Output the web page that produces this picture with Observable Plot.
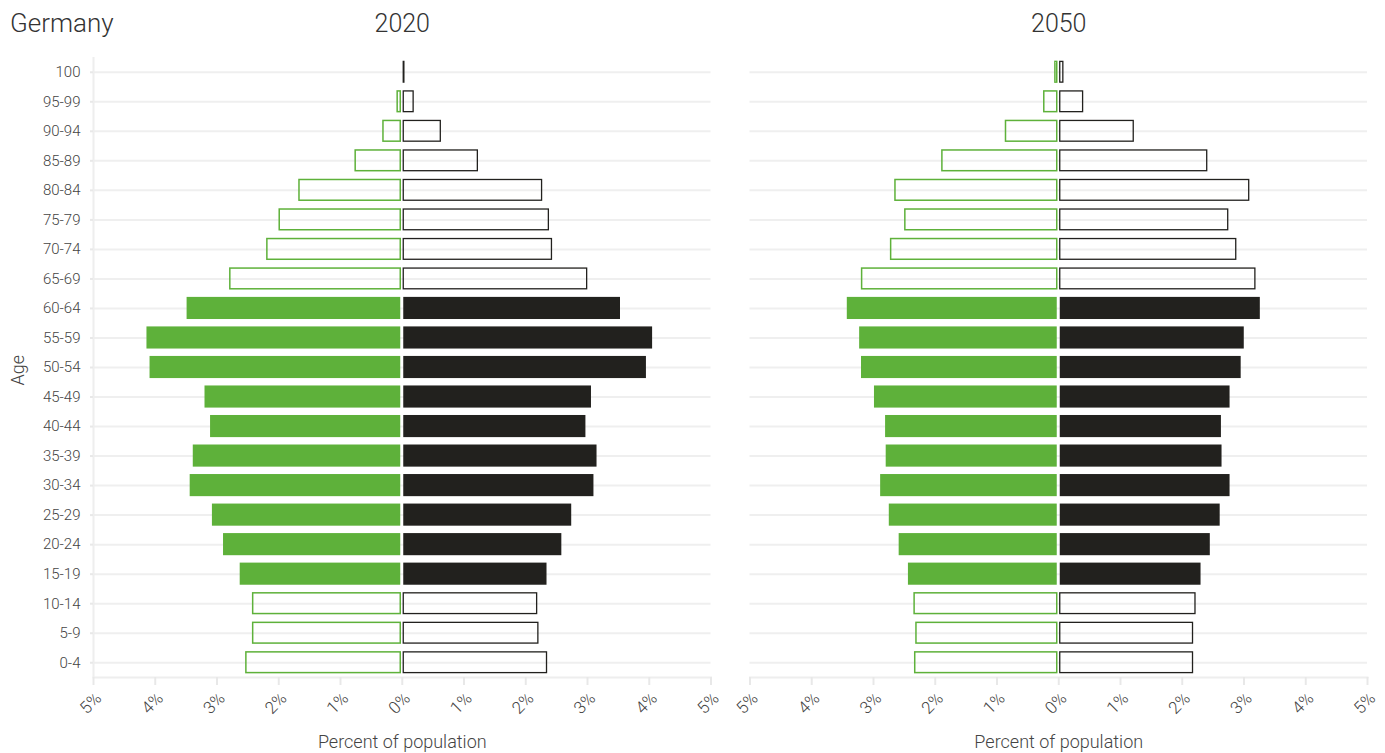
<!DOCTYPE html>
<html><head><meta charset="utf-8">
<script src="https://cdn.jsdelivr.net/npm/d3@7"></script>
<script src="https://cdn.jsdelivr.net/npm/@observablehq/plot@0.6"></script>
<style>
body{margin:0;background:#fff;font-family:Roboto,sans-serif;}
#wrap{position:relative;width:1385px;height:753px;}
#country{position:absolute;left:10px;top:8px;font-size:26px;font-weight:300;color:#333;line-height:1.2;}
</style></head><body>
<div id="wrap"><div id="country">Germany</div></div>
<script>
const ages = ["100","95-99","90-94","85-89","80-84","75-79","70-74","65-69","60-64","55-59","50-54","45-49","40-44","35-39","30-34","25-29","20-24","15-19","10-14","5-9","0-4"];
const years = ["2020","2050"];
const female2020 = [0, 0.05, 0.28, 0.73, 1.64, 1.96, 2.16, 2.76, 3.46, 4.11, 4.06, 3.17, 3.08, 3.36, 3.41, 3.05, 2.87, 2.60, 2.39, 2.39, 2.50];
const male2020   = [0.01, 0.16, 0.60, 1.20, 2.24, 2.35, 2.40, 2.97, 3.51, 4.03, 3.93, 3.04, 2.95, 3.13, 3.08, 2.72, 2.56, 2.32, 2.16, 2.18, 2.32];
const female2050 = [0.03, 0.21, 0.83, 1.86, 2.62, 2.46, 2.69, 3.16, 3.40, 3.20, 3.17, 2.96, 2.78, 2.77, 2.86, 2.72, 2.56, 2.41, 2.31, 2.28, 2.30];
const male2050   = [0.05, 0.37, 1.19, 2.38, 3.06, 2.72, 2.85, 3.16, 3.24, 2.98, 2.93, 2.75, 2.61, 2.62, 2.75, 2.59, 2.43, 2.28, 2.19, 2.15, 2.15];
const outlinedAges = ["100","95-99","90-94","85-89","80-84","75-79","70-74","65-69","10-14","5-9","0-4"];
const xTicks = [-5,-4,-3,-2,-1,0,1,2,3,4,5];
const xDomain = [-5, 5];
const titleText = "Germany";
const xLabel = "Percent of population";
const yLabel = "Age";

const GREEN = "#5eb13a";
const BLACK = "#22211e";

document.getElementById("country").textContent = titleText;

const series = [
  {year:"2020", sex:"female", values: female2020},
  {year:"2020", sex:"male", values: male2020},
  {year:"2050", sex:"female", values: female2050},
  {year:"2050", sex:"male", values: male2050}
];
const rows = [];
for (const s of series) ages.forEach((age, i) => {
  if (s.values[i] > 0) rows.push({year: s.year, sex: s.sex, age, value: s.values[i], outlined: outlinedAges.includes(age)});
});
const sel = (sex, outlined) => rows.filter(d => d.sex === sex && d.outlined === outlined);
const yearRows = years.map(y => ({year: y}));
const tickRows = years.flatMap(y => xTicks.map(t => ({year: y, tick: t})));

const chart = Plot.plot({
  width: 1385,
  height: 753,
  marginLeft: 93,
  marginRight: 18,
  marginTop: 57,
  marginBottom: 76,
  style: {fontFamily: "Roboto, sans-serif", fontWeight: 300, fontSize: "15px", color: "#444", background: "#fff"},
  fx: {domain: years, paddingInner: 0.0594, paddingOuter: 0, round: false},
  x: {domain: xDomain},
  y: {domain: ages, padding: 0, round: false},
  marks: [
    Plot.gridY({stroke: "#efefef", strokeOpacity: 1, strokeWidth: 2}),
    Plot.frame({anchor: "bottom", stroke: "#eeeeee", strokeWidth: 2}),
    Plot.ruleX(yearRows.slice(0, 1), {fx: "year", x: () => xDomain[0], stroke: "#eeeeee", strokeWidth: 2}),
    Plot.barX(sel("female", false), {fx: "year", y: "age", x1: () => 0, x2: d => -d.value, dx: -1.5, fill: GREEN, insetTop: 3.7, insetBottom: 3.7}),
    Plot.barX(sel("male", false), {fx: "year", y: "age", x1: () => 0, x2: d => d.value, dx: 1.5, fill: BLACK, insetTop: 3.7, insetBottom: 3.7}),
    Plot.barX(sel("female", true), {fx: "year", y: "age", x1: () => 0, x2: d => -d.value, dx: -1.5, fill: "none", stroke: GREEN, strokeWidth: 1.5, insetTop: 4.4, insetBottom: 4.4}),
    Plot.barX(sel("male", true), {fx: "year", y: "age", x1: () => 0, x2: d => d.value, dx: 1.5, fill: "none", stroke: BLACK, strokeWidth: 1.3, insetTop: 4.4, insetBottom: 4.4}),
    Plot.axisX({ticks: xTicks, tickSize: 8, text: null, stroke: "#e8e8e8", strokeWidth: 2, label: null}),
    Plot.text(tickRows, {fx: "year", x: "tick", text: d => Math.abs(d.tick) + "%", frameAnchor: "bottom", rotate: -45, textAnchor: "end", lineAnchor: "middle", dx: 5, dy: 18, fontSize: 17, fill: "#444"}),
    Plot.axisY({tickSize: 3, text: null, stroke: "#e8e8e8", strokeWidth: 2, label: null}),
    Plot.axisY({tickSize: 0, tickPadding: 13, fill: "#444", fontSize: 15, label: null}),
    Plot.axisFx({anchor: "top", tickSize: 0, tickPadding: 26, fontSize: 25, fill: "#333", label: null}),
    Plot.text(yearRows.slice(0, 1), {fx: "year", text: () => yLabel, frameAnchor: "left", rotate: -90, dx: -75, dy: 18, fontSize: 18, fill: "#444"}),
    Plot.text(yearRows, {fx: "year", text: () => xLabel, frameAnchor: "bottom", dy: 70, fontSize: 18, fill: "#444"})
  ]
});
document.getElementById("wrap").prepend(chart);
</script>
</body></html>
